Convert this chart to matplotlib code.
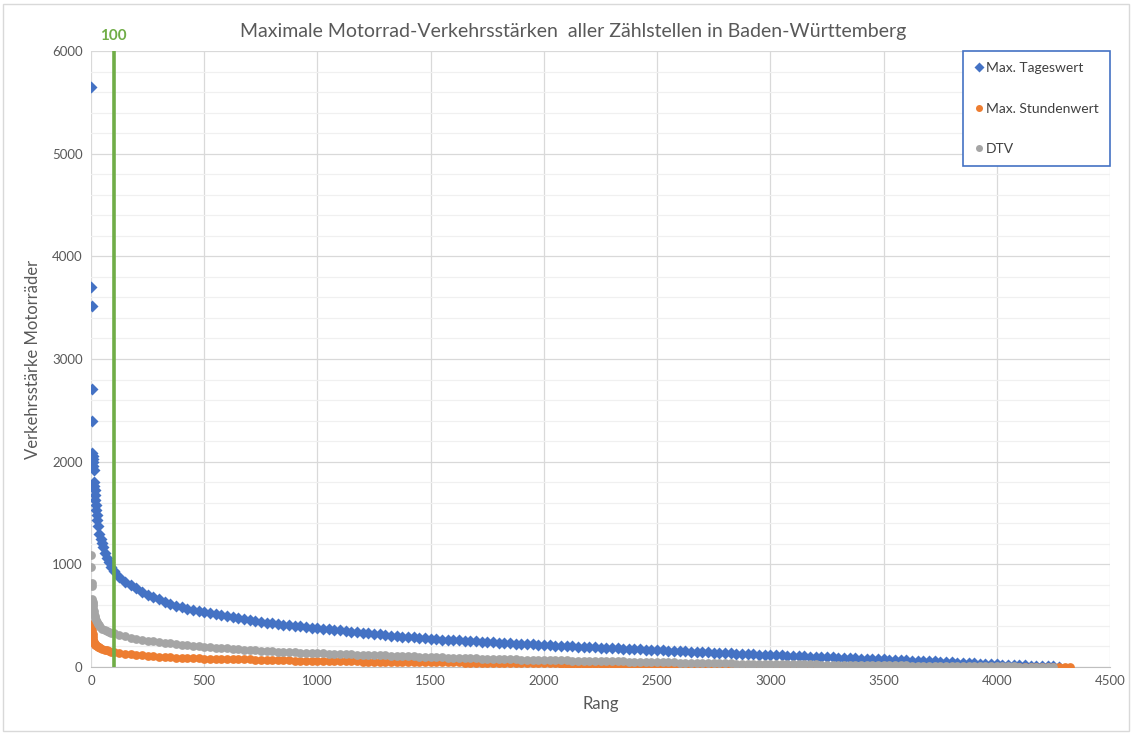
import matplotlib
matplotlib.use("Agg")
import matplotlib.pyplot as plt
from matplotlib.patches import Rectangle
from matplotlib.ticker import MultipleLocator

# --- Max. Tageswert (blue diamonds) ---
tag_head_rank = [1, 2, 3, 4, 5, 6, 7, 8, 9, 10, 11, 13, 14, 16, 17, 19, 21, 23, 25, 28,
                 32, 37, 42, 47, 52, 60, 70, 80, 90, 100]
tag_head = [5650, 3700, 3520, 2710, 2400, 2085, 2060, 2025, 1995, 1955, 1920, 1805, 1760, 1720,
            1675, 1630, 1580, 1530, 1480, 1430, 1370, 1300, 1250, 1205, 1170, 1110, 1065, 1020,
            975, 940]
# read every 25 ranks from rank 125 on
tag_tail = [880, 830, 795, 765, 735, 705, 680, 658, 637, 617, 599, 582, 568, 556, 545, 535,
            525, 515, 506, 497, 488, 478, 467, 456, 448, 440, 433, 427, 420, 414, 408, 402,
            396, 390, 385, 380, 374, 368, 362, 356, 350, 344, 339, 333, 328, 322, 317, 312,
            307, 302, 297, 292, 288, 284, 279, 275, 272, 268, 265, 262, 259, 255, 252, 249,
            246, 243, 240, 237, 234, 231, 228, 225, 222, 220, 217, 214, 212, 209, 207, 204,
            202, 199, 197, 195, 192, 190, 187, 185, 182, 180, 177, 175, 172, 170, 167, 165,
            162, 160, 157, 155, 152, 150, 147, 145, 142, 140, 138, 135, 133, 131, 128, 126,
            124, 121, 119, 117, 115, 113, 110, 108, 106, 104, 102, 99, 97, 95, 93, 91,
            89, 87, 84, 82, 80, 78, 76, 74, 72, 70, 67, 65, 63, 61, 59, 56,
            54, 52, 49, 47, 44, 41, 39, 36, 33, 30, 28, 25, 23, 21, 19, 17,
            15, 13, 11, 9, 7, 6, 4]

# --- Max. Stundenwert (orange circles) ---
std_head_rank = [1, 2, 3, 4, 5, 6, 7, 8, 9, 10, 12, 14, 16, 18, 20, 25, 30, 35, 40, 50,
                 60, 70, 80, 90, 100]
std_head = [800, 640, 415, 405, 390, 360, 320, 290, 268, 255, 240, 230, 222, 216, 212, 204,
            197, 192, 188, 180, 170, 162, 156, 150, 146]
std_tail = [137, 130, 124, 118, 113, 108, 104, 100, 97, 94, 91, 89, 87, 85, 84, 82,
            81, 80, 79, 78, 77, 76, 75, 74, 72, 71, 70, 69, 67, 66, 65, 63,
            62, 61, 59, 58, 57, 57, 56, 55, 55, 54, 54, 53, 53, 52, 52, 51,
            51, 50, 50, 49, 49, 48, 48, 47, 47, 46, 46, 45, 45, 44, 44, 43,
            43, 42, 42, 41, 40, 40, 39, 39, 38, 38, 37, 37, 36, 35, 34, 33,
            32, 31, 30, 29, 28, 27, 26, 25, 24, 23, 22, 21, 21, 20, 20, 19,
            18, 17, 16, 15, 14, 13, 12, 12, 11, 11, 10, 10, 9, 9, 8, 8,
            7, 7, 7, 6, 6, 6, 5, 5, 5, 5, 5, 4, 4, 4, 4, 4,
            3, 3, 3, 3, 3, 3, 3, 2, 2, 2, 2, 2, 2, 2, 2, 1,
            1, 1, 1, 1, 1, 1, 1, 1, 1, 1, 1, 0, 0, 0, 0, 0,
            0, 0, 0, 0, 0, 0, 0, 0, 0]

# --- DTV (grey circles) ---
dtv_head_rank = [1, 2, 3, 4, 5, 6, 7, 8, 9, 10, 12, 14, 16, 18, 20, 25, 30, 35, 40, 50,
                 60, 70, 80, 90, 100]
dtv_head = [1090, 970, 820, 790, 660, 645, 630, 610, 590, 570, 545, 520, 500, 475, 460, 440,
            420, 405, 392, 375, 362, 352, 343, 336, 330]
dtv_tail = [312, 298, 287, 277, 266, 257, 249, 242, 236, 230, 224, 218, 213, 208, 202, 197,
            193, 189, 185, 181, 177, 173, 169, 165, 162, 159, 156, 153, 151, 148, 146, 143,
            141, 139, 137, 135, 133, 131, 129, 128, 126, 124, 122, 121, 119, 117, 115, 113,
            111, 109, 107, 105, 103, 101, 99, 97, 95, 93, 92, 90, 89, 87, 86, 84,
            83, 81, 80, 78, 77, 75, 74, 73, 71, 70, 69, 68, 67, 66, 65, 64,
            63, 62, 61, 60, 59, 58, 57, 56, 55, 54, 53, 52, 51, 50, 49, 48,
            47, 46, 45, 44, 43, 42, 41, 40, 39, 38, 37, 36, 35, 34, 33, 32,
            31, 30, 30, 29, 28, 28, 27, 27, 26, 26, 25, 25, 24, 24, 23, 23,
            22, 22, 21, 21, 20, 20, 19, 19, 18, 17, 16, 15, 14, 13, 12, 12,
            11, 11, 10, 10, 10, 9, 9, 9, 8, 8, 8, 7, 7, 6, 6, 5,
            5, 4, 4, 3, 3, 2]

marked_rank = 100


def series(head_rank, head, tail):
    ranks = head_rank + [125 + 25 * i for i in range(len(tail))]
    return ranks, head + tail


blue = "#4472c4"
orange = "#ed7d31"
grey = "#a5a5a5"
txt = "#595959"

fig = plt.figure(figsize=(11.32, 7.33), dpi=100)
ax = fig.add_axes([0.0804, 0.0900, 0.9002, 0.8404])

x, y = series(tag_head_rank, tag_head, tag_tail)
ax.plot(x, y, "D", color=blue, ms=6.0, mec="none", label="Max. Tageswert", zorder=3)
x, y = series(std_head_rank, std_head, std_tail)
ax.plot(x, y, "o", color=orange, ms=6.3, mec="none", label="Max. Stundenwert", zorder=4)
x, y = series(dtv_head_rank, dtv_head, dtv_tail)
ax.plot(x, y, "o", color=grey, ms=6.3, mec="none", label="DTV", zorder=5)

ax.axvline(marked_rank, color="#70ad47", lw=2.6, zorder=6)
ax.text(marked_rank, 6080, str(marked_rank), color="#70ad47", fontsize=11, fontweight="bold",
        ha="center", va="bottom", family="Lato")

ax.set_xlim(0, 4500)
ax.set_ylim(0, 6000)
ax.xaxis.set_major_locator(MultipleLocator(500))
ax.yaxis.set_major_locator(MultipleLocator(1000))
ax.yaxis.set_minor_locator(MultipleLocator(200))
ax.grid(True, which="major", color="#d9d9d9", lw=0.9, zorder=0)
ax.grid(True, which="minor", axis="y", color="#f0f0f0", lw=0.9, zorder=0)
ax.set_axisbelow(True)
for s in ["top", "right", "left"]:
    ax.spines[s].set_visible(False)
ax.spines["bottom"].set_color("#bfbfbf")
ax.tick_params(which="both", length=0, labelsize=9.5, labelcolor=txt, pad=6)
for lab in ax.get_xticklabels() + ax.get_yticklabels():
    lab.set_family("Lato")

ax.set_xlabel("Rang", fontsize=12, color=txt, family="Lato", labelpad=6)
ax.set_ylabel("Verkehrsstärke Motorräder", fontsize=12, color=txt, family="Lato", labelpad=8)
fig.text(0.506, 0.957, "Maximale Motorrad-Verkehrsstärken  aller Zählstellen in Baden-Württemberg",
         ha="center", va="center", fontsize=14, color=txt, family="Lato")

leg = ax.legend(loc="upper right", borderaxespad=0, labelspacing=2.05, handletextpad=0.25,
                handlelength=0.6, borderpad=0.8, fancybox=False, framealpha=1,
                markerscale=0.8, prop={"family": "Lato", "size": 10})
leg.get_frame().set_edgecolor(blue)
leg.get_frame().set_linewidth(1.2)
for t in leg.get_texts():
    t.set_color("#404040")

fig.patches.append(Rectangle((0.003, 0.003), 0.994, 0.991, transform=fig.transFigure,
                             fill=False, edgecolor="#d9d9d9", lw=1))

fig.savefig("out.png", dpi=100)
